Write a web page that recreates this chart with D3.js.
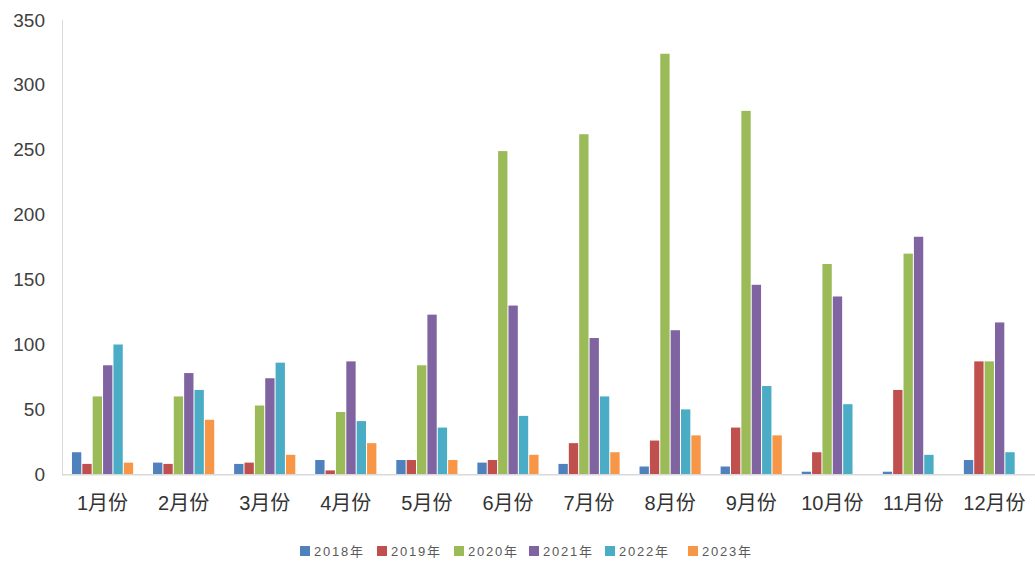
<!DOCTYPE html>
<html>
<head>
<meta charset="utf-8">
<script src="https://cdn.jsdelivr.net/npm/d3@7"></script>
<style>
  html, body { margin: 0; padding: 0; background: #fff; }
  svg { display: block; }
  text { font-family: "Liberation Sans", Arial, "Noto Sans CJK SC", sans-serif; }
</style>
</head>
<body>
<svg id="chart" width="1035" height="565"></svg>
<script>
// Monthly figures by year
const months = ["1月份","2月份","3月份","4月份","5月份","6月份","7月份","8月份","9月份","10月份","11月份","12月份"];
const years = ["2018年","2019年","2020年","2021年","2022年","2023年"];
const colors = ["#4F81BD","#C0504D","#9BBB59","#8064A2","#4BACC6","#F79646"];

const v2018 = [17, 9, 8, 11, 11, 9, 8, 6, 6, 2, 2, 11];
const v2019 = [8, 8, 9, 3, 11, 11, 24, 26, 36, 17, 65, 87];
const v2020 = [60, 60, 53, 48, 84, 249, 262, 324, 280, 162, 170, 87];
const v2021 = [84, 78, 74, 87, 123, 130, 105, 111, 146, 137, 183, 117];
const v2022 = [100, 65, 86, 41, 36, 45, 60, 50, 68, 54, 15, 17];
const v2023 = [9, 42, 15, 24, 11, 15, 17, 30, 30, null, null, null];
const seriesValues = [v2018, v2019, v2020, v2021, v2022, v2023];

const yTicks = [0, 50, 100, 150, 200, 250, 300, 350];

const svg = d3.select("#chart");
const margin = { left: 62, right: 0, top: 20, bottom: 91 };
const W = 1035, H = 565;
const x0 = d3.scaleBand().domain(months)
  .range([margin.left, W - margin.right])
  .paddingInner(0.22).paddingOuter(0.11);
const x1 = d3.scaleBand().domain(years)
  .range([0, x0.bandwidth()]).padding(0.1);
const y = d3.scaleLinear().domain([0, 350]).range([H - margin.bottom + 0.3, margin.top]);

// vertical axis line
svg.append("line")
  .attr("x1", margin.left + 0.5).attr("x2", margin.left + 0.5)
  .attr("y1", y(350)).attr("y2", y(0))
  .attr("stroke", "#d9d9d9").attr("stroke-width", 1);

// bars
const groups = svg.append("g").selectAll("g")
  .data(months).join("g")
  .attr("transform", d => `translate(${x0(d)},0)`);

groups.selectAll("rect")
  .data((m, i) => years.map((yr, k) => ({ yr, k, v: seriesValues[k][i] })).filter(d => d.v != null))
  .join("rect")
  .attr("x", d => x1(d.yr))
  .attr("width", x1.bandwidth())
  .attr("y", d => y(d.v))
  .attr("height", d => y(0) - y(d.v))
  .attr("fill", d => colors[d.k]);

// baseline
svg.append("line")
  .attr("x1", margin.left).attr("x2", W)
  .attr("y1", y(0) + 0.5).attr("y2", y(0) + 0.5)
  .attr("stroke", "#d9d9d9").attr("stroke-width", 1.5);

// y axis labels
const yAxis = d3.axisLeft(y).tickValues(yTicks).tickSize(0).tickPadding(17);
const gy = svg.append("g").attr("transform", `translate(${margin.left},0)`).call(yAxis);
gy.select(".domain").remove();
gy.selectAll("text").attr("font-size", 19).attr("fill", "#404040")
  .attr("font-family", "'Liberation Sans', Arial, sans-serif");

// x axis labels
const xAxis = d3.axisBottom(x0).tickSize(0).tickPadding(22);
const gx = svg.append("g").attr("transform", `translate(0,${y(0)})`).call(xAxis);
gx.select(".domain").remove();
gx.selectAll("text").attr("font-size", 20).attr("fill", "#333")
  .attr("font-family", "'Liberation Sans', 'Noto Sans CJK SC', sans-serif");

// legend
const legendX = [300, 377, 454, 529, 605, 688];
const legend = svg.append("g").selectAll("g").data(years).join("g")
  .attr("transform", (d, i) => `translate(${legendX[i]},546)`);
legend.append("rect").attr("width", 10).attr("height", 10)
  .attr("fill", (d, i) => colors[i]);
legend.append("text").attr("x", 14).attr("y", 10)
  .attr("font-size", 13).attr("letter-spacing", 1.8).attr("fill", "#595959")
  .attr("font-family", "'Liberation Sans', 'Noto Sans CJK SC', sans-serif")
  .text(d => d);
</script>
</body>
</html>
